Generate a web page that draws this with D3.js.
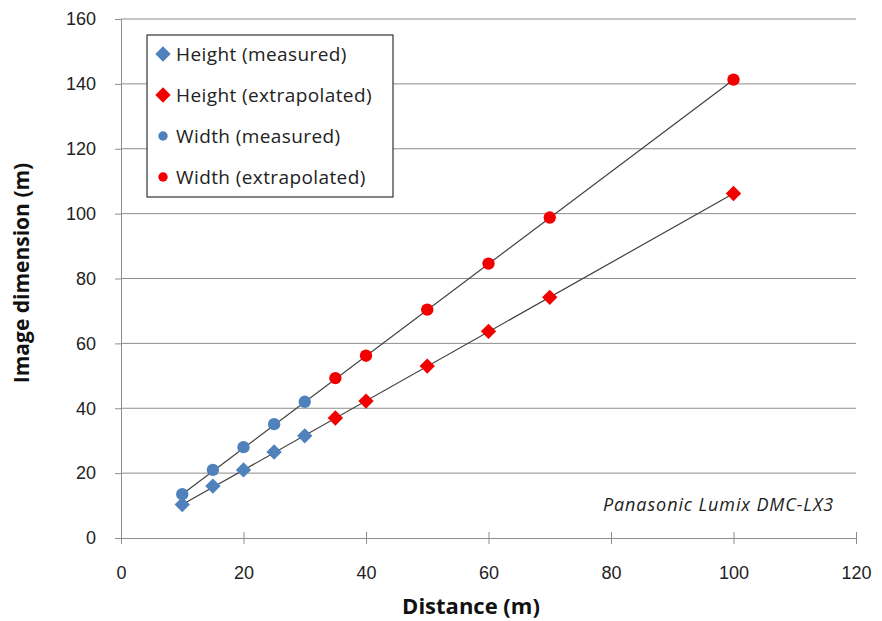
<!DOCTYPE html>
<html>
<head>
<meta charset="utf-8">
<script src="https://cdn.jsdelivr.net/npm/d3@7"></script>
<style>
  body { margin: 0; background: #fff; }
  svg { font-family: "Open Sans", sans-serif; }
</style>
</head>
<body>
<svg id="chart" width="882" height="621"></svg>
<script>
// distances (m)
const MEASURED_X = [10, 15, 20, 25, 30];
const EXTRAP_X = [35, 40, 50, 60, 70, 100];

// image dimension (m)
const HEIGHT_MEASURED = [10.3, 16, 21, 26.5, 31.5];
const HEIGHT_EXTRAP = [37, 42.2, 53, 63.7, 74.2, 106.2];
const WIDTH_MEASURED = [13.5, 21, 28, 35.1, 42];
const WIDTH_EXTRAP = [49.3, 56.2, 70.4, 84.6, 98.8, 141.3];

const X_TICKS = [0, 20, 40, 60, 80, 100, 120];
const Y_TICKS = [0, 20, 40, 60, 80, 100, 120, 140, 160];

const BLUE = "#4f81bd";
const RED = "#f20000";

const margin = { left: 121, right: 26, top: 19, bottom: 83 };
const W = 882, H = 621;

const svg = d3.select("#chart");

const x = d3.scaleLinear().domain([0, 120]).range([margin.left, W - margin.right]);
const y = d3.scaleLinear().domain([0, 160]).range([H - margin.bottom, margin.top]);

// gridlines
svg.append("g")
    .selectAll("line")
    .data(Y_TICKS.slice(1))
    .enter().append("line")
    .attr("x1", x(0)).attr("x2", x(120))
    .attr("y1", d => y(d)).attr("y2", d => y(d))
    .attr("stroke", "#8c8c8c")
    .attr("stroke-width", 1);

// axes
const xAxis = svg.append("g")
    .attr("transform", "translate(0," + y(0) + ")")
    .call(d3.axisBottom(x).tickValues(X_TICKS).tickSize(6).tickPadding(22));
const yAxis = svg.append("g")
    .attr("transform", "translate(" + x(0) + ",0)")
    .call(d3.axisLeft(y).tickValues(Y_TICKS).tickSize(6).tickPadding(19));

[xAxis, yAxis].forEach(function(a) {
    a.select(".domain").attr("stroke", "#8c8c8c");
    a.selectAll(".tick line").attr("stroke", "#8c8c8c");
    a.selectAll(".tick text")
        .attr("fill", "#222")
        .style("font-size", "18px");
});
xAxis.selectAll(".tick line").attr("y1", -6).attr("y2", 6);
yAxis.selectAll(".tick line").attr("x1", -6).attr("x2", 0);

// trend lines
const line = d3.line().x(d => x(d[0])).y(d => y(d[1]));
const heightPts = d3.zip(MEASURED_X.concat(EXTRAP_X), HEIGHT_MEASURED.concat(HEIGHT_EXTRAP));
const widthPts = d3.zip(MEASURED_X.concat(EXTRAP_X), WIDTH_MEASURED.concat(WIDTH_EXTRAP));

[heightPts, widthPts].forEach(function(pts) {
    svg.append("path")
        .datum([pts[0], pts[pts.length - 1]])
        .attr("d", line)
        .attr("fill", "none")
        .attr("stroke", "#404040")
        .attr("stroke-width", 1.2);
});

const diamond = d3.symbol().type(d3.symbolDiamond2).size(150);
const circle = d3.symbol().type(d3.symbolCircle).size(120);

function drawSeries(xs, ys, sym, color) {
    svg.append("g")
        .selectAll("path")
        .data(d3.zip(xs, ys))
        .enter().append("path")
        .attr("d", sym)
        .attr("transform", d => "translate(" + x(d[0]) + "," + y(d[1]) + ")")
        .attr("fill", color);
}

drawSeries(MEASURED_X, HEIGHT_MEASURED, diamond, BLUE);
drawSeries(EXTRAP_X, HEIGHT_EXTRAP, diamond, RED);
drawSeries(MEASURED_X, WIDTH_MEASURED, circle, BLUE);
drawSeries(EXTRAP_X, WIDTH_EXTRAP, circle, RED);

// axis titles
svg.append("text")
    .attr("x", 471).attr("y", 614)
    .attr("text-anchor", "middle")
    .style("font-size", "22px").style("font-weight", "bold")
    .attr("fill", "#111")
    .text("Distance (m)");

svg.append("text")
    .attr("transform", "translate(29,273) rotate(-90)")
    .attr("text-anchor", "middle")
    .style("font-size", "21px").style("font-weight", "bold")
    .attr("fill", "#111")
    .text("Image dimension (m)");

// annotation
svg.append("text")
    .attr("x", 834).attr("y", 511)
    .attr("text-anchor", "end")
    .style("font-size", "18px").style("font-style", "italic")
    .style("letter-spacing", "0.9px")
    .attr("fill", "#222")
    .text("Panasonic  Lumix DMC-LX3");

// legend
const LEGEND_LABELS = ["Height (measured)", "Height (extrapolated)", "Width (measured)", "Width (extrapolated)"];
const smallCircle = d3.symbol().type(d3.symbolCircle).size(70);
const legendSyms = [diamond, diamond, smallCircle, smallCircle];
const legendColors = [BLUE, RED, BLUE, RED];

const legend = svg.append("g").attr("transform", "translate(147,35)");
legend.append("rect")
    .attr("width", 246).attr("height", 162)
    .attr("fill", "#fff")
    .attr("stroke", "#333").attr("stroke-width", 1.2);

const items = legend.selectAll(".item")
    .data(LEGEND_LABELS)
    .enter().append("g")
    .attr("class", "item")
    .attr("transform", (d, i) => "translate(0," + (19 + i * 41) + ")");

items.append("path")
    .attr("d", (d, i) => legendSyms[i]())
    .attr("transform", "translate(16,0)")
    .attr("fill", (d, i) => legendColors[i]);

items.append("text")
    .attr("x", 29).attr("dy", "0.35em")
    .style("font-size", "19px")
    .style("letter-spacing", "0.4px")
    .attr("fill", "#222")
    .text(d => d);
</script>
</body>
</html>
